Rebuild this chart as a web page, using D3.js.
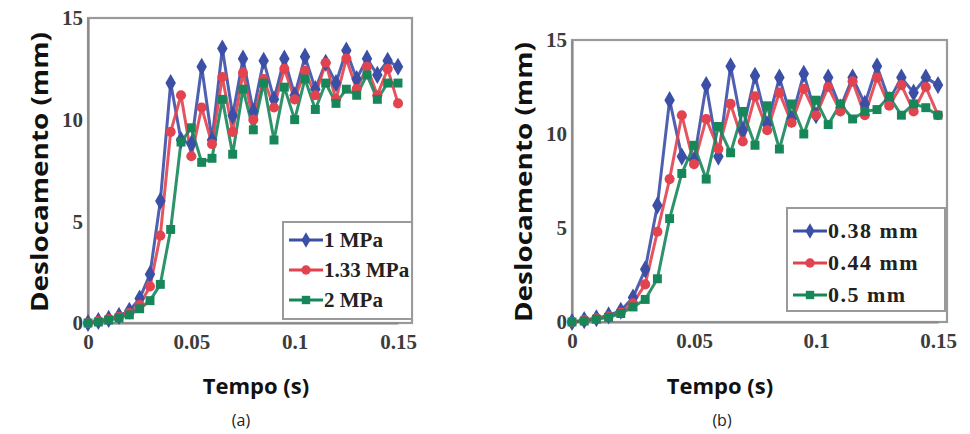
<!DOCTYPE html>
<html>
<head>
<meta charset="utf-8">
<script src="https://cdn.jsdelivr.net/npm/d3@7"></script>
<style>
  html, body { margin: 0; padding: 0; background: #ffffff; }
  svg { display: block; }
</style>
</head>
<body>
<svg id="chart" width="970" height="434"></svg>
<script>
// ---------- DATA ----------
const time = [0, 0.005, 0.01, 0.015, 0.02, 0.025, 0.03, 0.035, 0.04, 0.045, 0.05, 0.055, 0.06, 0.065, 0.07, 0.075, 0.08, 0.085, 0.09, 0.095, 0.1, 0.105, 0.11, 0.115, 0.12, 0.125, 0.13, 0.135, 0.14, 0.145, 0.15];
const xTicks = [0, 0.05, 0.1, 0.15];
const xTickLabels = ["0", "0.05", "0.1", "0.15"];
const yTicks = [0, 5, 10, 15];
const yTickLabels = ["0", "5", "10", "15"];

// Panel (a): pressure
const seriesNamesA = ["1 MPa", "1.33 MPa", "2 MPa"];
const a_1MPa   = [0, 0.1, 0.2, 0.35, 0.6, 1.2, 2.4, 6.0, 11.8, 9.0, 8.8, 12.6, 9.0, 13.5, 10.2, 13.0, 10.4, 12.9, 11.0, 13.0, 11.2, 13.1, 11.5, 12.8, 11.8, 13.4, 12.0, 13.0, 12.2, 12.9, 12.6];
const a_133MPa = [0, 0.1, 0.2, 0.3, 0.5, 0.9, 1.8, 4.3, 9.4, 11.2, 8.2, 10.6, 8.8, 12.1, 9.4, 12.3, 10.0, 12.0, 10.6, 12.5, 11.0, 12.4, 11.2, 12.8, 11.0, 13.0, 11.5, 12.6, 11.2, 12.5, 10.8];
const a_2MPa   = [0, 0.05, 0.15, 0.25, 0.4, 0.7, 1.1, 1.9, 4.6, 8.9, 9.6, 7.9, 8.1, 11.0, 8.3, 11.5, 9.5, 11.8, 9.0, 11.6, 10.0, 12.0, 10.5, 11.8, 10.8, 11.5, 11.2, 12.2, 11.0, 11.8, 11.8];

// Panel (b): gap
const seriesNamesB = ["0.38 mm", "0.44 mm", "0.5 mm"];
const b_038mm = [0, 0.1, 0.2, 0.35, 0.6, 1.3, 2.8, 6.2, 11.8, 8.8, 8.6, 12.6, 8.8, 13.6, 10.2, 13.1, 10.5, 13.0, 10.8, 13.2, 11.0, 13.0, 11.4, 13.0, 11.6, 13.6, 11.8, 13.0, 12.2, 13.0, 12.6];
const b_044mm = [0, 0.1, 0.2, 0.3, 0.5, 1.0, 2.0, 4.8, 7.6, 11.0, 8.4, 10.8, 9.2, 11.6, 9.6, 12.0, 10.2, 12.2, 10.6, 12.4, 11.0, 12.5, 11.2, 12.8, 11.0, 13.0, 11.5, 12.6, 11.2, 12.5, 11.0];
const b_05mm  = [0, 0.05, 0.15, 0.25, 0.45, 0.8, 1.2, 2.3, 5.5, 7.9, 9.4, 7.6, 10.4, 9.0, 11.2, 9.4, 11.5, 9.2, 11.6, 10.0, 11.8, 10.5, 11.6, 10.8, 11.2, 11.3, 12.0, 11.0, 11.6, 11.4, 11.0];

const seriesColors = ["#3b4fa6", "#e2434f", "#17875a"];
const seriesSymbols = [d3.symbolDiamond, d3.symbolCircle, d3.symbolSquare];

// ---------- DRAW ----------
const svg = d3.select("#chart");
const serif = "'Liberation Serif', 'DejaVu Serif', serif";
const sans = "'Open Sans', 'DejaVu Sans', sans-serif";

function drawPanel(cfg) {
  const g = svg.append("g");
  const x = d3.scaleLinear().domain([0, 0.15]).range([cfg.left, cfg.right]);
  const y = d3.scaleLinear().domain([0, 15]).range([cfg.bottom, cfg.top]);

  // plot frame
  g.append("rect")
    .attr("x", cfg.left).attr("y", cfg.top)
    .attr("width", cfg.right - cfg.left + cfg.pad).attr("height", cfg.bottom - cfg.top)
    .attr("fill", "none").attr("stroke", "#9a9a9a").attr("stroke-width", 2.2);

  // axes (labels only, no tick marks)
  const xAxis = d3.axisBottom(x).tickValues(xTicks).tickSize(0).tickPadding(11)
    .tickFormat((d, i) => xTickLabels[i]);
  const yAxis = d3.axisLeft(y).tickValues(yTicks).tickSize(0).tickPadding(5)
    .tickFormat((d, i) => yTickLabels[i]);
  const gx = g.append("g").attr("transform", `translate(0,${cfg.bottom})`).call(xAxis);
  const gy = g.append("g").attr("transform", `translate(${cfg.left},0)`).call(yAxis);
  [gx, gy].forEach(ax => {
    ax.select(".domain").attr("stroke", "#8a8a8a").attr("stroke-width", 2.2);
    ax.selectAll("text")
      .attr("font-family", serif)
      .attr("font-weight", "bold").attr("font-size", 21).attr("fill", "#3c3c3c");
  });

  // series
  const line = d3.line().x((d, i) => x(time[i])).y(d => y(d));
  cfg.series.forEach((vals, s) => {
    g.append("path").datum(vals)
      .attr("d", line).attr("fill", "none")
      .attr("stroke", seriesColors[s]).attr("stroke-width", 3)
      .attr("stroke-opacity", 0.9).attr("stroke-linejoin", "round");
  });
  cfg.series.forEach((vals, s) => {
    const sym = d3.symbol().type(seriesSymbols[s]).size(s === 0 ? 95 : 80);
    g.selectAll(null).data(vals).enter().append("path")
      .attr("d", sym)
      .attr("transform", (d, i) => `translate(${x(time[i])},${y(d)})`)
      .attr("fill", seriesColors[s]);
  });

  // legend
  const lg = g.append("g");
  lg.append("rect")
    .attr("x", cfg.legend.x).attr("y", cfg.legend.y)
    .attr("width", cfg.legend.w).attr("height", cfg.legend.h)
    .attr("fill", "#ffffff").attr("stroke", "#9a9a9a").attr("stroke-width", 2);
  cfg.names.forEach((name, s) => {
    const ry = cfg.legend.y + cfg.legend.row0 + s * cfg.legend.rowH;
    const lx0 = cfg.legend.x + 6, lx1 = cfg.legend.x + 40;
    lg.append("line").attr("x1", lx0).attr("x2", lx1).attr("y1", ry).attr("y2", ry)
      .attr("stroke", seriesColors[s]).attr("stroke-width", 3);
    lg.append("path").attr("d", d3.symbol().type(seriesSymbols[s]).size(70))
      .attr("transform", `translate(${(lx0 + lx1) / 2},${ry})`).attr("fill", seriesColors[s]);
    lg.append("text").attr("x", lx1 + 1).attr("y", ry + 7)
      .attr("font-family", serif)
      .attr("font-weight", "bold").attr("font-size", cfg.legend.fs).attr("fill", "#222")
      .attr("letter-spacing", cfg.legend.ls)
      .text(name);
  });

  // axis titles
  g.append("text")
    .attr("transform", `translate(${cfg.yTitleX},${cfg.yTitleY}) rotate(-90)`)
    .attr("text-anchor", "middle")
    .attr("font-family", sans)
    .attr("font-weight", "bold").attr("font-size", 24).attr("fill", "#111")
    .attr("textLength", cfg.yTitleLen).attr("lengthAdjust", "spacingAndGlyphs")
    .text("Deslocamento (mm)");
  g.append("text")
    .attr("x", cfg.xTitleX).attr("y", 394)
    .attr("text-anchor", "middle")
    .attr("font-family", sans)
    .attr("font-weight", "bold").attr("font-size", 22).attr("fill", "#111")
    .text("Tempo (s)");
  g.append("text")
    .attr("x", cfg.capX).attr("y", 426)
    .attr("text-anchor", "middle")
    .attr("font-family", sans)
    .attr("font-size", 16).attr("fill", "#222")
    .text(cfg.caption);
}

drawPanel({
  left: 88, right: 398, pad: 14, top: 18, bottom: 323,
  series: [a_1MPa, a_133MPa, a_2MPa], names: seriesNamesA,
  legend: { x: 283, y: 222, w: 129, h: 97, row0: 18, rowH: 30, fs: 21, ls: 0 },
  yTitleX: 48, yTitleY: 172, yTitleLen: 280, xTitleX: 256, capX: 241, caption: "(a)"
});
drawPanel({
  left: 572, right: 938, pad: 9, top: 40, bottom: 322,
  series: [b_038mm, b_044mm, b_05mm], names: seriesNamesB,
  legend: { x: 787, y: 208, w: 158, h: 103, row0: 23, rowH: 32, fs: 22, ls: 1.5 },
  yTitleX: 532, yTitleY: 182, yTitleLen: 280, xTitleX: 720, capX: 722, caption: "(b)"
});
</script>
</body>
</html>
